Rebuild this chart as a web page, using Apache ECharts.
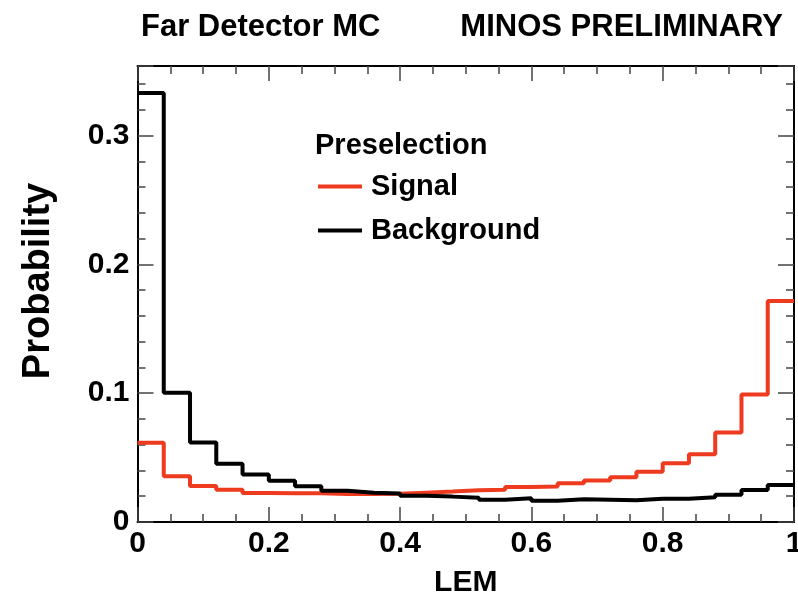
<!DOCTYPE html>
<html>
<head>
<meta charset="utf-8">
<script src="https://cdn.jsdelivr.net/npm/echarts@6/dist/echarts.min.js"></script>
<style>
html,body{margin:0;padding:0;background:#fff;}
#chart{width:798px;height:603px;}
</style>
</head>
<body>
<div id="chart"></div>
<script>
// Bin low edges of LEM histogram (25 bins of width 0.04)
var binLow = [0.00,0.04,0.08,0.12,0.16,0.20,0.24,0.28,0.32,0.36,0.40,0.44,0.48,0.52,0.56,0.60,0.64,0.68,0.72,0.76,0.80,0.84,0.88,0.92,0.96];
var upperEdge = 1.0;
var signalValues = [0.0615,0.0355,0.0280,0.0250,0.0226,0.0224,0.0223,0.0217,0.0218,0.0220,0.0228,0.0236,0.0247,0.0250,0.0272,0.0276,0.0300,0.0322,0.0347,0.0390,0.0456,0.0525,0.0695,0.0990,0.1715];
var backgroundValues = [0.3330,0.1003,0.0617,0.0452,0.0368,0.0320,0.0278,0.0243,0.0228,0.0222,0.0203,0.0197,0.0189,0.0172,0.0184,0.0165,0.0176,0.0172,0.0168,0.0181,0.0180,0.0192,0.0212,0.0249,0.0287];
var xTicks = [0,0.2,0.4,0.6,0.8,1];
var yTicks = [0,0.1,0.2,0.3];
var seriesNames = ['Signal','Background'];
var legendTitle = 'Preselection';
var titleLeft = 'Far Detector MC';
var titleRight = 'MINOS PRELIMINARY';
var xName = 'LEM';
var yName = 'Probability';

function histData(vals){
  var d = [];
  for (var i=0;i<vals.length;i++) d.push([binLow[i], vals[i]]);
  d.push([upperEdge, vals[vals.length-1]]);
  return d;
}

var FONT = 'Liberation Sans';
var yMax = 0.354;

var chart = echarts.init(document.getElementById('chart'));
var axisLineStyle = {color:'#000', width:2};
var tickStyle = {color:'#444', width:1.5};

chart.setOption({
  backgroundColor:'#fff',
  animation:false,
  title:[
    {text:titleLeft, left:136, top:7, textStyle:{fontFamily:FONT,fontWeight:'bold',fontSize:31,color:'#000'}},
    {text:titleRight, right:10, top:7, textStyle:{fontFamily:FONT,fontWeight:'bold',fontSize:31,color:'#000'}},
    {text:legendTitle, left:310, top:126, textStyle:{fontFamily:FONT,fontWeight:'bold',fontSize:29,color:'#000'}}
  ],
  legend:{
    orient:'vertical', left:313, top:167, itemWidth:44, itemHeight:4, itemGap:15,
    icon:'rect',
    data:seriesNames,
    textStyle:{fontFamily:FONT,fontWeight:'bold',fontSize:29,color:'#000',padding:[0,0,0,4]}
  },
  grid:{left:137.5, right:4, top:66, bottom:81, containLabel:false, outerBoundsMode:'none'},
  xAxis:[
    {type:'value', min:0, max:1, interval:0.2, position:'bottom',
     name:xName, nameLocation:'middle', nameGap:46,
     nameTextStyle:{fontFamily:FONT,fontWeight:'bold',fontSize:30,color:'#000'},
     axisLine:{show:true,onZero:false,lineStyle:axisLineStyle},
     axisTick:{show:true,inside:true,length:15,lineStyle:tickStyle},
     minorTick:{show:true,splitNumber:4,length:8,lineStyle:tickStyle},
     axisLabel:{fontFamily:FONT,fontWeight:'bold',fontSize:30,color:'#000',margin:7,
       formatter:function(v){return String(+v.toFixed(1));}},
     splitLine:{show:false}},
    {type:'value', min:0, max:1, interval:0.2, position:'top',
     axisLine:{show:true,onZero:false,lineStyle:axisLineStyle},
     axisTick:{show:true,inside:true,length:15,lineStyle:tickStyle},
     minorTick:{show:true,splitNumber:4,length:8,lineStyle:tickStyle},
     axisLabel:{show:false}, splitLine:{show:false}}
  ],
  yAxis:[
    {type:'value', min:0, max:yMax, interval:0.1, position:'left',
     name:yName, nameLocation:'middle', nameGap:80, nameRotate:90,
     nameTextStyle:{fontFamily:FONT,fontWeight:'bold',fontSize:38,color:'#000',padding:[0,0,0,26]},
     axisLine:{show:true,onZero:false,lineStyle:axisLineStyle},
     axisTick:{show:true,inside:true,length:16,lineStyle:tickStyle},
     minorTick:{show:true,splitNumber:5,length:8,lineStyle:tickStyle},
     axisLabel:{fontFamily:FONT,fontWeight:'bold',fontSize:30,color:'#000',margin:8,showMaxLabel:false,
       formatter:function(v){return String(+v.toFixed(1));}},
     splitLine:{show:false}},
    {type:'value', min:0, max:yMax, interval:0.1, position:'right',
     axisLine:{show:true,onZero:false,lineStyle:axisLineStyle},
     axisTick:{show:true,inside:true,length:16,lineStyle:tickStyle},
     minorTick:{show:true,splitNumber:5,length:8,lineStyle:tickStyle},
     axisLabel:{show:false}, splitLine:{show:false}}
  ],
  series:[
    {name:seriesNames[0], type:'line', step:'end', showSymbol:false, symbol:'none',
     xAxisIndex:0, yAxisIndex:0, clip:true,
     lineStyle:{color:'#ee3a1f', width:4}, itemStyle:{color:'#ee3a1f'},
     data:histData(signalValues)},
    {name:seriesNames[1], type:'line', step:'end', showSymbol:false, symbol:'none',
     xAxisIndex:0, yAxisIndex:0, clip:true,
     lineStyle:{color:'#000', width:4}, itemStyle:{color:'#000'},
     data:histData(backgroundValues)}
  ]
});
</script>
</body>
</html>
